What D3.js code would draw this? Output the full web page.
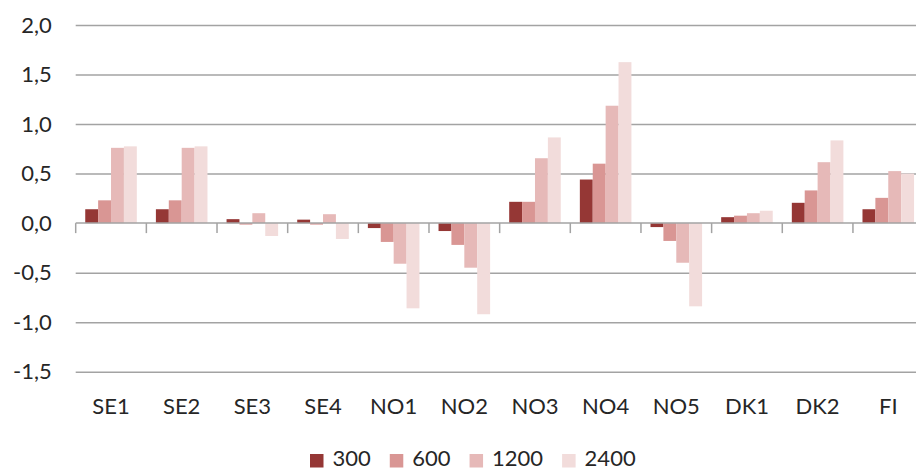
<!DOCTYPE html>
<html>
<head>
<meta charset="utf-8">
<script src="https://cdn.jsdelivr.net/npm/d3@7"></script>
<style>
  html, body { margin: 0; padding: 0; background: #fff; overflow: hidden; }
  svg { display: block; }
  text { font-family: Lato, "Noto Sans", sans-serif; fill: #262626; }
</style>
</head>
<body>
<svg id="chart" width="916" height="470"></svg>
<script>
// Price areas on the category axis
const categories = ["SE1", "SE2", "SE3", "SE4", "NO1", "NO2", "NO3", "NO4", "NO5", "DK1", "DK2", "FI"];
// Series names (legend labels)
const seriesNames = ["300", "600", "1200", "2400"];
// Values per series, one entry per category
const s300  = [0.14, 0.14, 0.04, 0.035, -0.05, -0.08, 0.215, 0.44, -0.04, 0.06, 0.205, 0.14];
const s600  = [0.23, 0.23, -0.015, -0.015, -0.19, -0.22, 0.215, 0.60, -0.18, 0.075, 0.33, 0.255];
const s1200 = [0.76, 0.76, 0.10, 0.09, -0.41, -0.45, 0.655, 1.185, -0.40, 0.10, 0.615, 0.525];
const s2400 = [0.775, 0.775, -0.13, -0.16, -0.86, -0.92, 0.865, 1.625, -0.84, 0.125, 0.835, 0.50];
// Value axis ticks
const yTicks = [-1.5, -1.0, -0.5, 0.0, 0.5, 1.0, 1.5, 2.0];

const seriesValues = [s300, s600, s1200, s2400];
const colors = ["#953735", "#d99694", "#e6b9b8", "#f2dcdb"];
const fontSize = "22px";

const svg = d3.select("#chart");
const plotLeft = 75.7, plotRight = 923.6, plotTop = 25, plotBottom = 371.7;

const x = d3.scaleBand().domain(categories).range([plotLeft, plotRight]).paddingInner(0).paddingOuter(0);
const xs = d3.scaleBand().domain(seriesNames).range([0, x.bandwidth()]).paddingInner(0).paddingOuter(0.74);
const y = d3.scaleLinear().domain([-1.5, 2.0]).range([plotBottom, plotTop]);
const color = d3.scaleOrdinal().domain(seriesNames).range(colors);

const fmt = d3.formatLocale({decimal: ",", thousands: " ", grouping: [3], currency: ["", ""], minus: "-"}).format(".1f");

// Horizontal gridlines with value labels
const yAxis = d3.axisLeft(y).tickValues(yTicks).tickSize(-(plotRight - plotLeft)).tickPadding(24).tickFormat(fmt);
const gy = svg.append("g").attr("transform", `translate(${plotLeft},0)`).call(yAxis);
gy.select(".domain").remove();
gy.selectAll(".tick line").attr("stroke", "#a3a3a3").attr("stroke-width", 1.5)
  .attr("display", d => d === 0 ? "none" : null);
gy.selectAll(".tick text").style("font-size", fontSize).attr("fill", "#262626")
  .attr("font-family", "Lato, 'Noto Sans', sans-serif");

// Bars
const rows = categories.map((c, i) => ({cat: c, vals: seriesNames.map((s, j) => ({s, v: seriesValues[j][i]}))}));
svg.append("g").selectAll("g").data(rows).join("g")
  .attr("transform", d => `translate(${x(d.cat)},0)`)
  .selectAll("rect").data(d => d.vals).join("rect")
  .attr("x", d => xs(d.s))
  .attr("width", xs.bandwidth())
  .attr("y", d => y(Math.max(0, d.v)))
  .attr("height", d => Math.abs(y(d.v) - y(0)))
  .attr("fill", d => color(d.s));

// Category axis at zero with boundary tick marks
const y0 = y(0);
svg.append("line").attr("x1", plotLeft).attr("x2", plotRight).attr("y1", y0).attr("y2", y0)
  .attr("stroke", "#a3a3a3").attr("stroke-width", 1.5);
const bounds = categories.map(c => x(c)).concat([plotRight]);
svg.append("g").selectAll("line").data(bounds).join("line")
  .attr("x1", d => d).attr("x2", d => d).attr("y1", y0).attr("y2", y0 + 10)
  .attr("stroke", "#a3a3a3").attr("stroke-width", 1.5);

// Category labels below the plot
svg.append("g").selectAll("text").data(categories).join("text")
  .attr("x", d => x(d) + x.bandwidth() / 2)
  .attr("y", 414)
  .attr("text-anchor", "middle")
  .style("font-size", fontSize)
  .text(d => d);

// Legend: swatch + label, laid out left to right
const lg = svg.append("g");
const items = [];
seriesNames.forEach(s => {
  const g = lg.append("g");
  g.append("rect").attr("x", 0).attr("y", 454).attr("width", 13.5).attr("height", 13.5).attr("fill", color(s));
  const t = g.append("text").attr("x", 22.5).attr("y", 465.5).style("font-size", fontSize).text(s);
  const w = 22.5 + t.node().getComputedTextLength();
  items.push({g, w});
});
const gap = 19;
let cx = 310;
items.forEach(it => { it.g.attr("transform", `translate(${cx},0)`); cx += it.w + gap; });
</script>
</body>
</html>
